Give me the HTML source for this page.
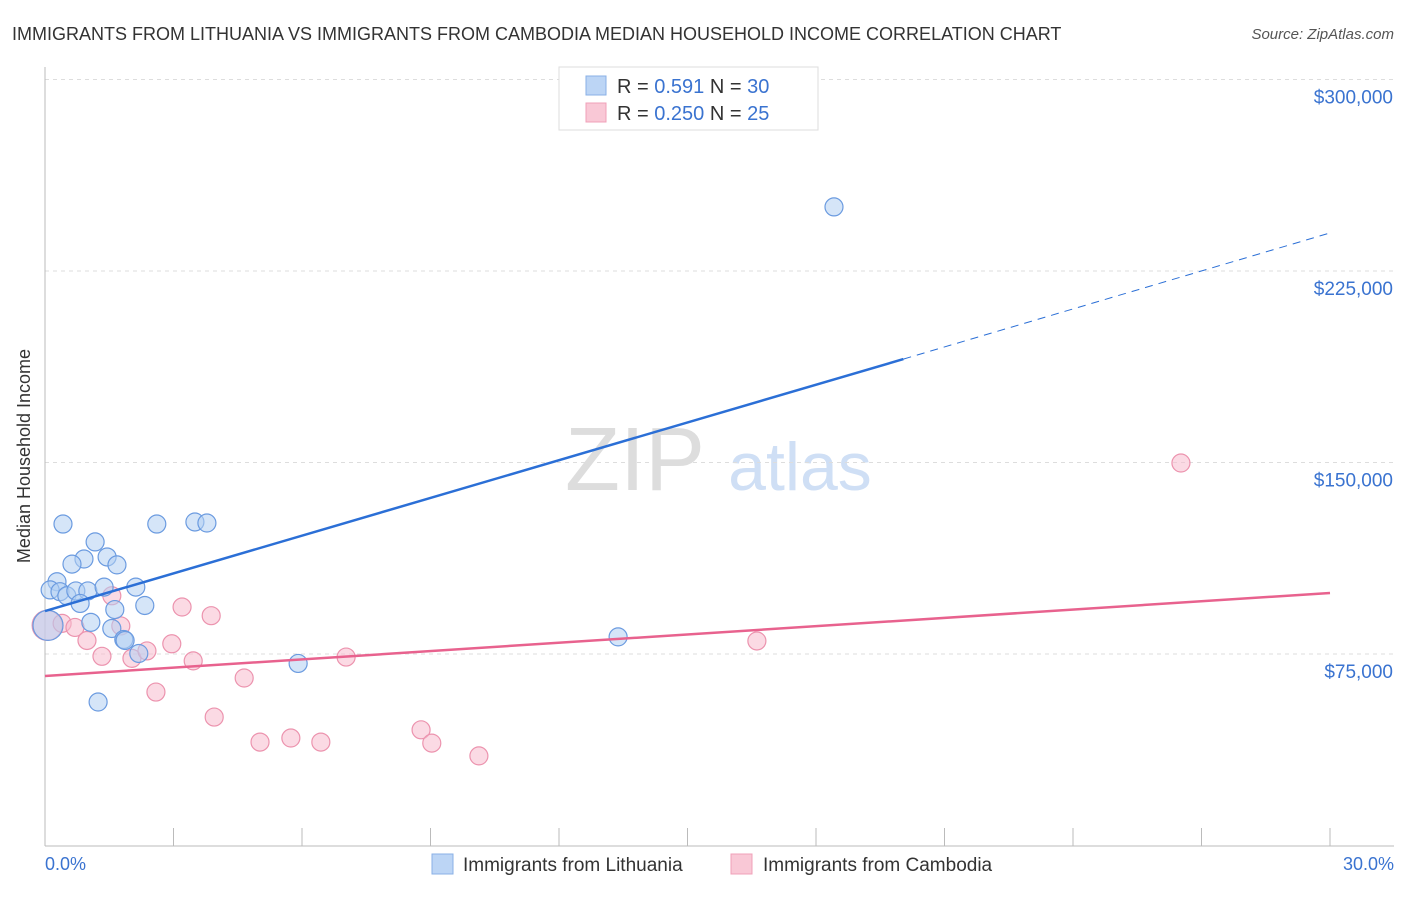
<!DOCTYPE html>
<html><head><meta charset="utf-8"><style>
body{margin:0;background:#fff;font-family:"Liberation Sans",sans-serif}
svg text{font-family:"Liberation Sans",sans-serif}
</style></head><body>
<svg width="1406" height="892" xmlns="http://www.w3.org/2000/svg" id="chart">
<text x="12" y="40" font-size="18" fill="#333">IMMIGRANTS FROM LITHUANIA VS IMMIGRANTS FROM CAMBODIA MEDIAN HOUSEHOLD INCOME CORRELATION CHART</text>
<text x="1394" y="39" font-size="15" fill="#555" text-anchor="end" font-style="italic">Source: ZipAtlas.com</text>
<text x="30" y="456" font-size="18" fill="#333" text-anchor="middle" transform="rotate(-90 30 456)">Median Household Income</text>
<g><text x="635" y="490" font-size="90" fill="#ddd" text-anchor="middle" font-family="Liberation Serif">ZIP</text><text x="800" y="490" font-size="68" fill="#cfdff5" text-anchor="middle">atlas</text></g>
<g id="grid"></g><g id="axes"></g><g id="marks"></g>
<g>
<rect x="559" y="67" width="259" height="63" fill="#fff" stroke="#ddd"/>
<rect x="586" y="76" width="20" height="19" fill="#bcd5f5" stroke="#8ab0e6"/>
<rect x="586" y="103" width="20" height="19" fill="#f9c8d6" stroke="#f0a0b8"/>
<text x="617" y="93" font-size="20" fill="#333">R = <tspan fill="#3a73d0"> 0.591</tspan>   N = <tspan fill="#3a73d0">30</tspan></text>
<text x="617" y="120" font-size="20" fill="#333">R = <tspan fill="#3a73d0">0.250</tspan>   N = <tspan fill="#3a73d0">25</tspan></text>
</g>
<g>
<rect x="432" y="854" width="21" height="20" fill="#bcd5f5" stroke="#8ab0e6"/>
<text x="463" y="871" font-size="19" fill="#333">Immigrants from Lithuania</text>
<rect x="731" y="854" width="21" height="20" fill="#f9c8d6" stroke="#f0a0b8"/>
<text x="763" y="871" font-size="19" fill="#333">Immigrants from Cambodia</text>
</g>
<text x="45" y="870" font-size="18" fill="#3a73d0">0.0%</text>
<text x="1394" y="870" font-size="18" fill="#3a73d0" text-anchor="end">30.0%</text>
</svg>
<script>
const yTicks=[75000,150000,225000,300000];
const yTickLabels=["$75,000","$150,000","$225,000","$300,000"];
const xTicks=[0,3,6,9,12,15,18,21,24,27,30];
const blueX=[0.42,2.61,3.50,3.78,1.17,0.91,0.63,1.45,1.68,0.28,0.12,0.35,0.51,0.72,1.00,1.38,2.12,0.82,2.33,1.63,1.07,1.56,1.84,1.87,2.19,5.91,13.38,18.42,1.24,0.07];
const blueY=[125900,125900,126700,126300,118900,112200,110200,113000,109900,103300,100100,99400,97800,99700,99700,101200,101200,94800,94000,92400,87400,85000,80700,80300,75200,71300,81700,250100,56200,86200];
const pinkX=[0.05,0.40,0.70,0.98,1.33,1.56,1.77,2.03,2.38,2.59,2.96,3.20,3.46,3.88,3.95,4.65,5.02,5.74,6.44,7.03,8.78,9.03,10.13,16.62,26.52];
const pinkY=[86200,87000,85400,80300,74100,97800,86000,73300,76200,60100,79000,93400,72300,90000,50300,65600,40500,42100,40500,73800,45300,40100,35100,80100,149800];
const blueTrend=[91800,190500,239900]; const blueTrendX=[0,20.04,30];
const pinkTrend=[66400,98900]; const pinkTrendX=[0,30];
const X=p=>45+p/30*1285, Y=v=>845.5-v*191.5/75000;
const NS="http://www.w3.org/2000/svg";
function mk(t,a,parent){const e=document.createElementNS(NS,t);for(const k in a)e.setAttribute(k,a[k]);document.getElementById(parent).appendChild(e);return e;}
yTicks.forEach((v,i)=>{
 const l=mk('line',{x1:45,x2:1394,y1:Y(v),y2:Y(v),stroke:'#ddd','stroke-dasharray':'4,4'},'grid');
 
 
 const t=mk('text',{x:1393,y:Y(v)+24,'font-size':19,fill:'#3a73d0','text-anchor':'end'},'axes');
 t.textContent=yTickLabels[i];
 
 
});
const ya=mk('line',{x1:45,x2:45,y1:67,y2:846,stroke:'#bbb'},'axes');


const xa=mk('line',{x1:45,x2:1394,y1:846,y2:846,stroke:'#bbb'},'axes');


xTicks.forEach(p=>{const t=mk('line',{x1:X(p),x2:X(p),y1:828,y2:846,stroke:'#bbb'},'axes');
 
 });
function pts(xs,ys,fill,stroke,name){xs.forEach((x,i)=>{const big=x<0.1;
 const c=mk('circle',{cx:X(x),cy:Y(ys[i]),r:big?15:9,fill:fill,'fill-opacity':0.55,stroke:stroke,'stroke-width':1.2},'marks');
 
 });}
pts(pinkX,pinkY,'#f7bccd','#ec93ae','cambodia-point');
pts(blueX,blueY,'#b3cff3','#6b9be0','lithuania-point');
const bl=mk('line',{x1:X(blueTrendX[0]),y1:Y(blueTrend[0]),x2:X(blueTrendX[1]),y2:Y(blueTrend[1]),stroke:'#2b6fd6','stroke-width':2.5},'marks');


const bd=mk('line',{x1:X(blueTrendX[1]),y1:Y(blueTrend[1]),x2:X(blueTrendX[2]),y2:Y(blueTrend[2]),stroke:'#2b6fd6','stroke-width':1,'stroke-dasharray':'8,6'},'marks');


const pl=mk('line',{x1:X(pinkTrendX[0]),y1:Y(pinkTrend[0]),x2:X(pinkTrendX[1]),y2:Y(pinkTrend[1]),stroke:'#e8628e','stroke-width':2.5},'marks');


</script>
</body></html>
